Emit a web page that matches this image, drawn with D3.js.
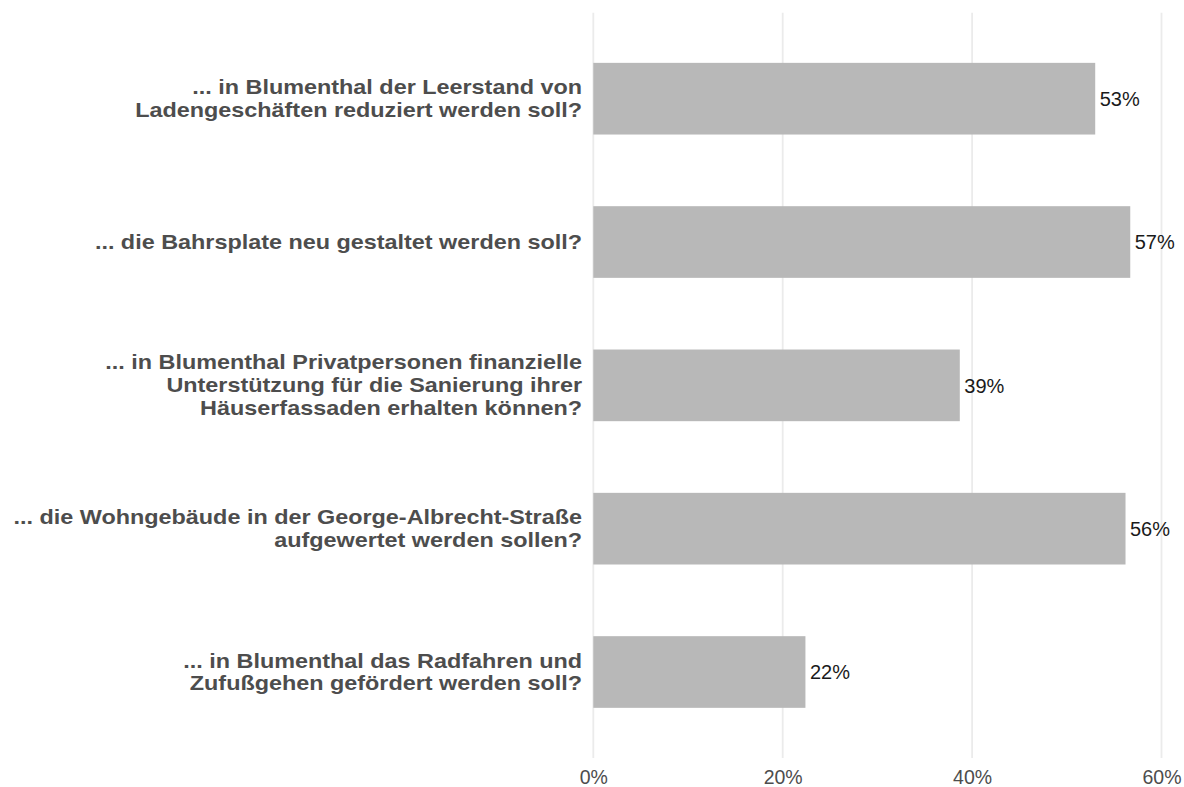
<!DOCTYPE html>
<html><head><meta charset="utf-8">
<script src="https://cdn.jsdelivr.net/npm/d3@7"></script>
<style>body{margin:0;background:#fff;} svg{display:block;}</style>
</head><body>
<svg id="chart" width="1184" height="787"></svg>
<script>
const categories = [
  ["... in Blumenthal der Leerstand von", "Ladengeschäften reduziert werden soll?"],
  ["... die Bahrsplate neu gestaltet werden soll?"],
  ["... in Blumenthal Privatpersonen finanzielle", "Unterstützung für die Sanierung ihrer", "Häuserfassaden erhalten können?"],
  ["... die Wohngebäude in der George-Albrecht-Straße", "aufgewertet werden sollen?"],
  ["... in Blumenthal das Radfahren und", "Zufußgehen gefördert werden soll?"]
];
const values = [53.0, 56.7, 38.7, 56.2, 22.4];
const valueLabels = ["53%", "57%", "39%", "56%", "22%"];
const xTicks = [0, 20, 40, 60];
const xTickLabels = ["0%", "20%", "40%", "60%"];

const svg = d3.select("#chart");
const font = "'Liberation Sans', Arial, Helvetica, sans-serif";
const plotTop = 12.7, plotBottom = 758, plotLeft = 593.3;
const x = d3.scaleLinear().domain([0, 60]).range([plotLeft, plotLeft + 60 * 9.47]);
const ids = categories.map((c, i) => i);
const y = d3.scalePoint().domain(ids).range([plotTop, plotBottom]).padding(0.6);
const bw = y.step() * 0.5;

// gridlines
svg.append("g").selectAll("line").data(xTicks).join("line")
  .attr("x1", d => x(d)).attr("x2", d => x(d))
  .attr("y1", plotTop).attr("y2", plotBottom)
  .attr("stroke", "#EBEBEB").attr("stroke-width", 1.8);

// x axis labels
const xAxis = d3.axisBottom(x).tickValues(xTicks).tickFormat((d, i) => xTickLabels[i]).tickSize(0).tickPadding(0);
const gx = svg.append("g").attr("transform", `translate(0,${plotBottom})`).call(xAxis);
gx.select(".domain").remove();
gx.selectAll("text").attr("dy", null).attr("y", 26)
  .attr("fill", "#4D4D4D").style("font-family", font).style("font-size", "19.5px");

// bars
svg.append("g").selectAll("rect").data(values).join("rect")
  .attr("x", x(0)).attr("y", (d, i) => y(i) - bw / 2)
  .attr("width", d => x(d) - x(0)).attr("height", bw)
  .attr("fill", "#B8B8B8");

// value labels
svg.append("g").selectAll("text").data(values).join("text")
  .attr("x", d => x(d) + 4.5).attr("y", (d, i) => y(i) + 7.2)
  .attr("fill", "#1A1A1A").style("font-family", font).style("font-size", "20px")
  .text((d, i) => valueLabels[i]);

// category labels (reference glyphs are horizontally wide)
const catSize = 19.5, lh = 23, capH = 14, stretch = 1.2;
const g = svg.append("g");
categories.forEach((lines, i) => {
  const n = lines.length;
  const lastBase = y(i) + (capH + (n - 1) * lh) / 2;
  const t = g.append("text").attr("text-anchor", "end")
    .attr("transform", `translate(582,0) scale(${stretch},1)`)
    .attr("fill", "#4D4D4D").style("font-family", font).style("font-size", catSize + "px").style("font-weight", "bold");
  lines.forEach((ln, j) => {
    t.append("tspan").attr("x", 0).attr("y", lastBase - (n - 1 - j) * lh).text(ln);
  });
});
</script>
</body></html>
